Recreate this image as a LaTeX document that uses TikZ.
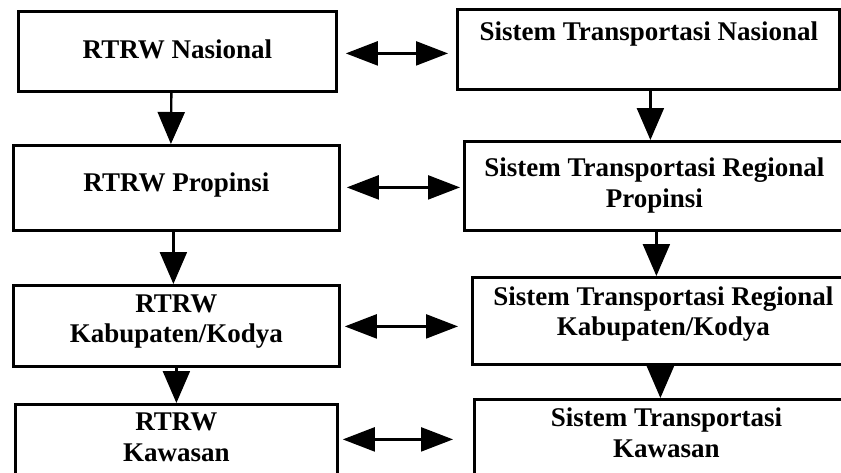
\documentclass[tikz,border=0pt]{standalone}
\usepackage{fontspec}
\setmainfont{Liberation Serif}
\usetikzlibrary{arrows.meta,calc}
\tikzset{
  box/.style={draw=black, line width=2.8pt, rectangle, inner sep=0pt, anchor=north west, fill=white},
  txt/.style={anchor=north, inner sep=0pt, align=center, font=\bfseries\fontsize{27}{30.5}\selectfont},
  varr/.style={line width=2.3pt, -{Triangle[length=32pt,width=27pt]}},
  darr/.style={line width=2.3pt, {Triangle[length=32pt,width=24pt]}-{Triangle[length=32pt,width=24pt]}}
}
\begin{document}
\begin{tikzpicture}[x=1pt,y=-1pt]
\useasboundingbox (0,0) rectangle (841,472);
\fill[white] (0,0) rectangle (841,472);
\clip (0,0) rectangle (841,472);
% boxes
\node[box, minimum width=318pt, minimum height=80pt] (L1) at (17,10) {};
\node[box, minimum width=382pt, minimum height=80pt] (R1) at (456,8) {};
\node[box, minimum width=326pt, minimum height=85pt] (L2) at (12,144) {};
\node[box, minimum width=380pt, minimum height=89pt] (R2) at (463,140) {};
\node[box, minimum width=326pt, minimum height=81pt] (L3) at (12,284) {};
\node[box, minimum width=382pt, minimum height=87pt] (R3) at (471,276) {};
\node[box, minimum width=322pt, minimum height=80pt] (L4) at (14,403) {};
\node[box, minimum width=384pt, minimum height=90pt] (R4) at (473,398) {};
% texts
\node[txt] (L1t) at ($(L1.north)+(0,29.5)$) {RTRW Nasional};
\node[txt] (R1t) at ($(R1.north)+(0.5,14)$) {Sistem Transportasi Nasional};
\node[txt] (L2t) at ($(L2.north)+(0,28.5)$) {RTRW Propinsi};
\node[txt] (R2t) at ($(R2.north)+(0,18)$) {Sistem Transportasi Regional\\Propinsi};
\node[txt] (L3t) at ($(L3.north)+(0,10.5)$) {RTRW\\Kabupaten/Kodya};
\node[txt] (R3t) at ($(R3.north)+(0,10.5)$) {Sistem Transportasi Regional\\Kabupaten/Kodya};
\node[txt] (L4t) at ($(L4.north)+(0,10)$) {RTRW\\Kawasan};
\node[txt] (R4t) at ($(R4.north)+(0,10)$) {Sistem Transportasi\\Kawasan};
% vertical arrows
\draw[varr] ($(L1.south)+(-6,0)$) -- ($(L2.north)+(-5.5,0)$);
\draw[varr] ($(L2.south)+(-3,0)$) -- ($(L3.north)+(-3,0)$);
\draw[varr] ($(L3.south)+(0,0)$) -- ($(L4.north)+(0,0)$);
\draw[varr] ($(R1.south)+(2,0)$) -- ($(R2.north)+(-4,0)$);
\draw[varr] ($(R2.south)+(2,0)$) -- ($(R3.north)+(-7,0)$);
\draw[varr] ($(R3.south)+(-3,0)$) -- ($(R4.north)+(-6,0)$);
% horizontal double arrows
\draw[darr] ($(L1.east)+(8,2)$) -- ($(R1.west)+(-8,4)$);
\draw[darr] ($(L2.east)+(6,-0.5)$) -- ($(R2.west)+(-3,1.5)$);
\draw[darr] ($(L3.east)+(4,0.5)$) -- ($(R3.west)+(-13,5.5)$);
\draw[darr] ($(L4.east)+(4,-5)$) -- ($(R4.west)+(-20,-5)$);
\end{tikzpicture}
\end{document}
